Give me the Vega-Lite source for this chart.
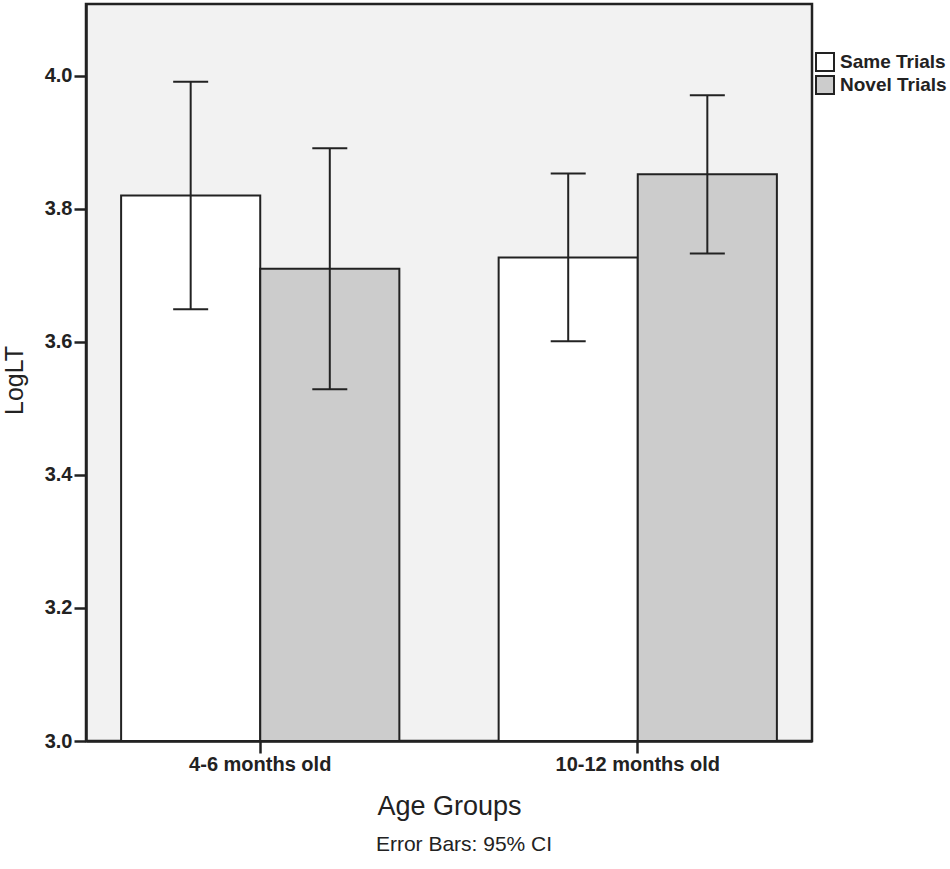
{
  "$schema": "https://vega.github.io/schema/vega-lite/v6.json",
  "autosize": "none",
  "padding": {"left": 86, "top": 4, "right": 138, "bottom": 128},
  "width": 726,
  "height": 737,
  "background": "white",
  "title": {
    "text": "Error Bars: 95% CI",
    "orient": "bottom",
    "anchor": "middle",
    "frame": "group",
    "font": "Liberation Sans",
    "fontSize": 21,
    "fontWeight": "normal",
    "color": "#222222",
    "offset": 15,
    "dx": 15
  },
  "config": {
    "font": "Liberation Sans",
    "view": {"fill": "#f2f2f2", "stroke": "#222222", "strokeWidth": 2.5},
    "axis": {
      "domainColor": "#222222",
      "domainWidth": 2.5,
      "tickColor": "#222222",
      "tickWidth": 2.5,
      "tickSize": 12,
      "labelColor": "#222222",
      "labelFont": "Liberation Sans",
      "labelFontWeight": "bold",
      "labelFontSize": 20,
      "titleColor": "#222222",
      "titleFont": "Liberation Sans",
      "titleFontWeight": "normal",
      "grid": false
    }
  },
  "data": {
    "values": [
      {"age": "4-6 months old", "trial": "Same Trials", "mean": 3.820, "lo": 3.649, "hi": 3.991},
      {"age": "4-6 months old", "trial": "Novel Trials", "mean": 3.710, "lo": 3.529, "hi": 3.891},
      {"age": "10-12 months old", "trial": "Same Trials", "mean": 3.727, "lo": 3.601, "hi": 3.853},
      {"age": "10-12 months old", "trial": "Novel Trials", "mean": 3.852, "lo": 3.733, "hi": 3.971}
    ]
  },
  "encoding": {
    "x": {
      "field": "age",
      "type": "nominal",
      "sort": ["4-6 months old", "10-12 months old"],
      "scale": {"paddingInner": 0.263, "paddingOuter": 0.093},
      "axis": {
        "title": "Age Groups",
        "labelAngle": 0,
        "labelPadding": 1,
        "titleFontSize": 27,
        "titleBaseline": "alphabetic",
        "titleY": 73
      }
    },
    "xOffset": {
      "field": "trial",
      "type": "nominal",
      "sort": ["Same Trials", "Novel Trials"],
      "scale": {"paddingInner": 0, "paddingOuter": 0}
    }
  },
  "layer": [
    {
      "mark": {"type": "bar", "stroke": "#222222", "strokeWidth": 2, "opacity": 1},
      "encoding": {
        "y": {
          "field": "mean",
          "type": "quantitative",
          "scale": {"domain": [3.0, 4.108], "nice": false, "zero": false},
          "axis": {
            "title": "LogLT",
            "values": [3.0, 3.2, 3.4, 3.6, 3.8, 4.0],
            "format": ".1f",
            "labelPadding": 2,
            "titleFontSize": 25,
            "titleBaseline": "middle",
            "titleAngle": -90,
            "titleX": -72,
            "titleY": 376
          }
        },
        "y2": {"datum": 3.0},
        "fill": {
          "field": "trial",
          "type": "nominal",
          "scale": {"domain": ["Same Trials", "Novel Trials"], "range": ["#ffffff", "#cccccc"]},
          "legend": {
            "title": null,
            "orient": "none",
            "legendX": 729,
            "legendY": 48,
            "padding": 0,
            "symbolType": "square",
            "symbolSize": 324,
            "symbolStrokeColor": "#222222",
            "symbolStrokeWidth": 2,
            "symbolOpacity": 1,
            "labelFont": "Liberation Sans",
            "labelFontSize": 19,
            "labelFontWeight": "bold",
            "labelColor": "#222222",
            "labelOffset": 5,
            "rowPadding": -3
          }
        }
      }
    },
    {
      "mark": {"type": "rule", "color": "#222222", "strokeWidth": 2},
      "encoding": {
        "y": {"field": "lo", "type": "quantitative"},
        "y2": {"field": "hi"}
      }
    },
    {
      "mark": {"type": "tick", "color": "#222222", "thickness": 2, "size": 35, "opacity": 1},
      "encoding": {"y": {"field": "lo", "type": "quantitative"}}
    },
    {
      "mark": {"type": "tick", "color": "#222222", "thickness": 2, "size": 35, "opacity": 1},
      "encoding": {"y": {"field": "hi", "type": "quantitative"}}
    }
  ]
}
